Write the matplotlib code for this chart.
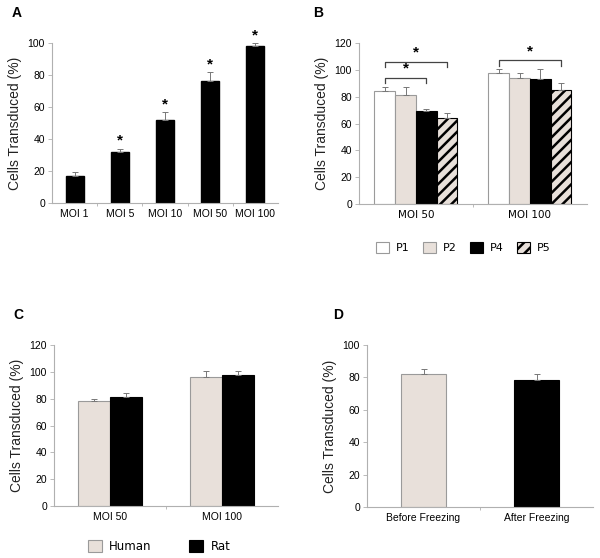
import numpy as np
import matplotlib
matplotlib.use('Agg')
import matplotlib.pyplot as plt
from matplotlib.patches import Patch
from matplotlib.ticker import FixedLocator

plt.rcParams['font.family'] = 'Liberation Sans'
plt.rcParams['hatch.linewidth'] = 1.8

# --- data ---
moi_a = ["MOI 1", "MOI 5", "MOI 10", "MOI 50", "MOI 100"]
vals_a = [17, 32, 52, 76, 98]
err_a = [2.5, 2, 5, 6, 2]
sig_a = [False, True, True, True, True]

moi_b = ["MOI 50", "MOI 100"]
passages = ["P1", "P2", "P4", "P5"]
vals_b = {"P1": [84, 97.5], "P2": [81, 94], "P4": [69, 93], "P5": [64, 85]}
err_b = {"P1": [3.5, 3], "P2": [6, 3.5], "P4": [1.5, 7.5], "P5": [3.5, 5]}

moi_c = ["MOI 50", "MOI 100"]
species = ["Human", "Rat"]
vals_c = {"Human": [78, 96], "Rat": [81.5, 97.5]}
err_c = {"Human": [1.5, 5], "Rat": [3, 3]}

cond_d = ["Before Freezing", "After Freezing"]
vals_d = [82, 78.5]
err_d = [3, 3.5]

BEIGE = '#e8e0da'
EDGE = '#9a9a9a'
AXC = '#b0b0b0'
ERRC = '#777777'


def style_axes(ax, n, ymax, step):
    ax.set_xlim(-0.5, n - 0.5)
    ax.set_ylim(0, ymax)
    ax.set_yticks(np.arange(0, ymax + 1, step))
    for s in ['top', 'right']:
        ax.spines[s].set_visible(False)
    for s in ['left', 'bottom']:
        ax.spines[s].set_color(AXC)
        ax.spines[s].set_linewidth(0.8)
    ax.tick_params(axis='y', length=3, width=0.6, color=AXC, labelsize=7.5, pad=2)
    ax.tick_params(axis='x', which='major', length=0, labelsize=7.5, pad=4)
    ax.xaxis.set_minor_locator(FixedLocator(np.arange(0.5, n - 0.5, 1)))
    ax.tick_params(axis='x', which='minor', length=2.5, width=0.6, color=AXC)
    ax.set_ylabel("Cells Transduced (%)", fontsize=10, labelpad=4, color='#222222')


fig = plt.figure(figsize=(6.0, 5.58), dpi=100)

# --- A ---
axA = fig.add_axes([0.0867, 0.6362, 0.3767, 0.2867])
xa = np.arange(len(moi_a))
axA.bar(xa, vals_a, width=0.4, color='black', edgecolor='black',
        yerr=[np.zeros(len(err_a)), err_a], ecolor=ERRC,
        error_kw=dict(elinewidth=0.7, capsize=2, capthick=0.7, clip_on=False))
for x, v, e, s in zip(xa, vals_a, err_a, sig_a):
    if s:
        axA.text(x, v + e + 0.5, "*", ha='center', va='bottom', fontsize=11,
                 fontweight='bold', clip_on=False)
style_axes(axA, len(moi_a), 100, 20)
axA.set_xticks(xa)
axA.set_xticklabels(moi_a)

# --- B ---
axB = fig.add_axes([0.5983, 0.6344, 0.38, 0.2885])
xb = np.arange(len(moi_b))
w = 0.182
styles_b = {"P1": dict(facecolor='white', edgecolor=EDGE),
            "P2": dict(facecolor=BEIGE, edgecolor=EDGE),
            "P4": dict(facecolor='black', edgecolor='black'),
            "P5": dict(facecolor=BEIGE, edgecolor='black', hatch='///')}
for i, p in enumerate(passages):
    off = (i - 1.5) * w
    axB.bar(xb + off, vals_b[p], width=w, linewidth=0.8, label=p,
            yerr=[np.zeros(2), err_b[p]], ecolor=ERRC,
            error_kw=dict(elinewidth=0.7, capsize=2, capthick=0.7),
            **styles_b[p])
brackets = [(0, 0, 3, 106), (0, 0, 2, 94), (1, 0, 3, 107)]
for g, i0, i1, y in brackets:
    x0 = g + (i0 - 1.5) * w
    x1 = g + (i1 - 1.5) * w
    axB.plot([x0, x0, x1, x1], [y - 4, y, y, y - 4], color='#444444', lw=0.9,
             clip_on=False)
    axB.text((x0 + x1) / 2, y + 1.5, "*", ha='center', va='bottom',
             fontsize=11, fontweight='bold')
style_axes(axB, len(moi_b), 120, 20)
axB.set_xticks(xb)
axB.set_xticklabels(moi_b, family='DejaVu Sans')
fig.legend(handles=[Patch(label=p, linewidth=0.8, **styles_b[p]) for p in passages],
           loc='center', bbox_to_anchor=(0.772, 0.556), ncol=4, frameon=False,
           prop=dict(family='DejaVu Sans', size=8), handlelength=1.2,
           handleheight=1.2, handletextpad=0.6, columnspacing=1.2)

# --- C ---
axC = fig.add_axes([0.09, 0.0932, 0.3733, 0.2885])
xc = np.arange(len(moi_c))
wc = 0.29
styles_c = {"Human": dict(facecolor=BEIGE, edgecolor=EDGE),
            "Rat": dict(facecolor='black', edgecolor='black')}
for i, s in enumerate(species):
    off = (i - 0.5) * wc
    axC.bar(xc + off, vals_c[s], width=wc, linewidth=0.8, label=s,
            yerr=[np.zeros(2), err_c[s]], ecolor=ERRC,
            error_kw=dict(elinewidth=0.7, capsize=2, capthick=0.7),
            **styles_c[s])
style_axes(axC, len(moi_c), 120, 20)
axC.set_xticks(xc)
axC.set_xticklabels(moi_c)
fig.legend(handles=[Patch(label=s, linewidth=0.8, **styles_c[s]) for s in species],
           loc='center', bbox_to_anchor=(0.265, 0.02), ncol=2, frameon=False,
           prop=dict(family='DejaVu Sans', size=8.5), handlelength=1.2,
           handleheight=1.2, handletextpad=0.6, columnspacing=3.2)

# --- D ---
axD = fig.add_axes([0.6117, 0.0914, 0.3767, 0.2903])
xd = np.arange(len(cond_d))
axD.bar(xd, vals_d, width=0.4, color=[BEIGE, 'black'], edgecolor=[EDGE, 'black'],
        linewidth=0.8, yerr=[np.zeros(2), err_d], ecolor=ERRC,
        error_kw=dict(elinewidth=0.7, capsize=2, capthick=0.7))
style_axes(axD, len(cond_d), 100, 20)
axD.set_xticks(xd)
axD.set_xticklabels(cond_d)

# panel letters
for lbl, (x, y) in zip("ABCD", [(17, 13), (318, 13), (18, 315), (338, 315)]):
    fig.text(x / 600, 1 - y / 558, lbl, ha='center', va='center',
             fontsize=10, fontweight='bold')

fig.savefig("out.png", dpi=100)
